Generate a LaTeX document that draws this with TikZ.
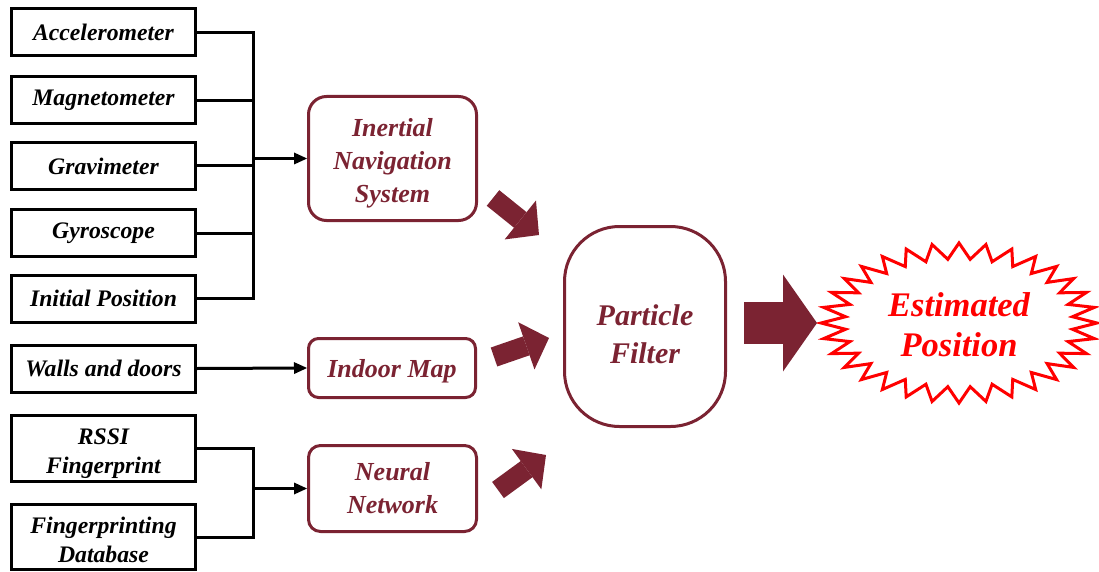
\documentclass[tikz,border=0pt]{standalone}
\usepackage{fontspec}
\setmainfont{Liberation Serif}[
  BoldFont={Liberation Serif Bold},
  ItalicFont={Liberation Serif Italic},
  BoldItalicFont={Liberation Serif Bold Italic}]
\usetikzlibrary{arrows.meta}
\definecolor{maroon}{RGB}{123,35,50}
\definecolor{starred}{RGB}{255,0,0}
% invisible strut that lowers a text block inside its box
\newcommand\toplift[1]{\rule{0pt}{#1}}

\begin{document}
\begin{tikzpicture}[x=1pt,y=-1pt,
  sensor/.style={draw=black, line width=3pt, minimum width=184pt, inner sep=0pt,
    align=center, font=\fontsize{23.7}{29}\selectfont\bfseries\itshape},
  stage/.style={draw=maroon, line width=3pt, text=maroon, rounded corners=#1,
    inner sep=0pt, align=center, font=\fontsize{26}{33}\selectfont\bfseries\itshape},
  wire/.style={line width=3pt, line join=miter},
  feed/.style={wire, -{Triangle[length=13pt,width=12pt,line width=0pt]}},
  fat/.style={maroon, line width=20pt, -{Triangle[length=24pt,width=50pt,line width=0pt]}},
  bigfat/.style={maroon, line width=42pt, -{Triangle[length=34pt,width=97pt,line width=0pt]}},
  starline/.style={draw=starred, line width=3pt, line join=miter, fill=white},
]
\useasboundingbox (0,0) rectangle (1099,572);

% sensor inputs
\node[sensor, minimum height=47pt] (acc)   at (103.5,32.5) {Accelerometer};
\node[sensor, minimum height=47pt] (mag)   at (103.5,100.5) {Magnetometer};
\node[sensor, minimum height=47pt] (grav)  at (103.5,166) {Gravimeter};
\node[sensor, minimum height=47pt] (gyro)  at (103.5,233) {Gyroscope};
\node[sensor, minimum height=47pt] (ini)   at (103.5,298.5) {Initial Position};
\node[sensor, minimum height=47pt] (walls) at (103.5,368.5) {Walls and doors};
\node[sensor, minimum height=66pt, text depth=0pt] (rssi) at (103.5,448.5) {\toplift{21pt}RSSI\\Fingerprint};
\node[sensor, minimum height=65pt] (db)   at (103.5,537) {\toplift{22pt}Fingerprinting\\Database};

% processing stages
\node[stage=18pt, minimum width=168pt, minimum height=124pt, text depth=0pt] (ins) at (392.5,158.5) {\toplift{22pt}Inertial\\Navigation\\System};
\node[stage=10pt, minimum width=167pt, minimum height=59pt, text depth=0pt] (map) at (392,368) {Indoor Map};
\node[stage=12pt, minimum width=168pt, minimum height=86pt] (nn) at (392.5,488.5) {Neural\\Network};
\node[stage=55pt, minimum width=161pt, minimum height=200pt,
      font=\fontsize{30}{38}\selectfont\bfseries\itshape] (pf) at (645,326.5) {\toplift{37pt}Particle\\Filter};

% estimated position burst
\coordinate (sc) at (959,323);
\begin{scope}[shift={(sc)}]
  \draw[starline] (138,0)
    \foreach \k in {1,...,32}{
      -- ({114*cos(\k*11.25-5.625)},{64*sin(\k*11.25-5.625)})
      -- ({138*cos(\k*11.25)},{80*sin(\k*11.25)})
    } -- cycle;
\end{scope}
\node[text=starred, align=center, font=\fontsize{34.5}{40}\selectfont\bfseries\itshape]
  (est) at (959,325) {Estimated\\Position};

% wiring
\coordinate (busA) at (253,0);
\draw[wire] (acc.east) -| (ini.east -| busA) -- (ini.east);
\foreach \n in {mag,grav,gyro} \draw[wire] (\n.east) -- (\n.east -| busA);
\draw[feed] (ins.west -| busA) -- (ins.west);
\draw[feed] (walls.east) -- (map.west);
\draw[wire] (rssi.east) -| (db.east -| busA) -- (db.east);
\draw[feed] (nn.west -| busA) -- (nn.west);

% block arrows into and out of the filter
\coordinate (a1s) at (493,198); \coordinate (a1e) at (539,235);
\coordinate (a2s) at (494,357); \coordinate (a2e) at (549,338);
\coordinate (a3s) at (498,490); \coordinate (a3e) at (546,455);
\coordinate (a4s) at (744,323); \coordinate (a4e) at (817,323);
\draw[fat] (a1s) -- (a1e);
\draw[fat] (a2s) -- (a2e);
\draw[fat] (a3s) -- (a3e);
\draw[bigfat] (a4s) -- (a4e);
\end{tikzpicture}
\end{document}
